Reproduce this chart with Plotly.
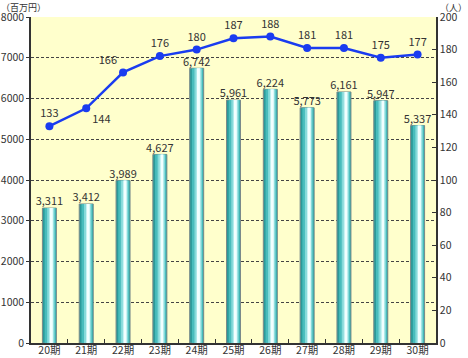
import plotly.graph_objects as go

categories = ["20期", "21期", "22期", "23期", "24期", "25期", "26期", "27期", "28期", "29期", "30期"]
amounts = [3311, 3412, 3989, 4627, 6742, 5961, 6224, 5773, 6161, 5947, 5337]
people = [133, 144, 166, 176, 180, 187, 188, 181, 181, 175, 177]
left_ticks = [0, 1000, 2000, 3000, 4000, 5000, 6000, 7000, 8000]
right_ticks = [0, 20, 40, 60, 80, 100, 120, 140, 160, 180, 200]

FONT = "Noto Sans CJK JP"
TXT = "#333333"

fig = go.Figure()

# cylinder-like bars made of overlaid layers
layers = [
    (0.38, 0.0, "#2a9a9a", dict(color="#7a8a8a", width=1)),
    (0.30, 0.02, "#48bcbc", dict(width=0)),
    (0.20, 0.04, "#86dada", dict(width=0)),
    (0.11, 0.05, "#c9f3f3", dict(width=0)),
    (0.05, 0.06, "#f2ffff", dict(width=0)),
]
for w, shift, col, ln in layers:
    fig.add_trace(go.Bar(
        x=categories, y=amounts, width=w, offset=-w / 2 + shift,
        marker=dict(color=col, line=ln), hoverinfo="skip", showlegend=False,
    ))

fig.add_trace(go.Scatter(
    x=categories, y=amounts, mode="text",
    text=[f"{v:,}" for v in amounts], textposition="top center",
    textfont=dict(family=FONT, size=11, color=TXT), showlegend=False,
))

line_pos = ["top center", "bottom right", "top left"] + ["top center"] * 8
fig.add_trace(go.Scatter(
    x=categories, y=people, yaxis="y2", mode="lines+markers+text",
    line=dict(color="#1a3cf0", width=2.5),
    marker=dict(color="#1a3cf0", size=8),
    text=[str(v) for v in people], textposition=line_pos,
    textfont=dict(family=FONT, size=11, color=TXT), showlegend=False,
))

fig.update_layout(
    width=468, height=358,
    margin=dict(l=31, r=32, t=17, b=15),
    paper_bgcolor="white", plot_bgcolor="#ffffcc",
    barmode="overlay",
    font=dict(family=FONT, size=11, color=TXT),
    xaxis=dict(
        type="category", tickson="boundaries", ticks="inside", ticklen=4,
        tickcolor="#333", showline=True, linecolor="#333", linewidth=1.5,
        showgrid=False, automargin=False, tickfont=dict(size=10.5),
        ticklabelstandoff=-3, range=[-0.5, 10.5],
    ),
    yaxis=dict(
        range=[0, 8000], tickvals=left_ticks, ticks="outside", ticklen=3,
        tickcolor="#333", showline=True, linecolor="#333", linewidth=1.5,
        showgrid=True, gridcolor="#444", griddash="3px,2px", gridwidth=1,
        zeroline=False, automargin=False, tickfont=dict(size=10.5),
    ),
    yaxis2=dict(
        range=[0, 200], tickvals=right_ticks, overlaying="y", side="right",
        ticks="inside", ticklen=4, tickcolor="#333", showline=True,
        linecolor="#333", linewidth=1.5, showgrid=False, zeroline=False,
        automargin=False, tickfont=dict(size=10.5),
    ),
    annotations=[
        dict(text="（百万円）", x=0, y=1, xref="paper", yref="paper",
             xanchor="left", yanchor="top", xshift=-31, yshift=17, showarrow=False,
             borderpad=0, font=dict(family=FONT, size=9, color=TXT)),
        dict(text="（人）", x=1, y=1, xref="paper", yref="paper",
             xanchor="right", yanchor="top", xshift=32, yshift=17, showarrow=False,
             borderpad=0, font=dict(family=FONT, size=9, color=TXT)),
    ],
)

fig.write_html("out.html", config={"displayModeBar": False},
               post_script="document.body.style.margin='0';document.body.style.overflow='hidden';")
